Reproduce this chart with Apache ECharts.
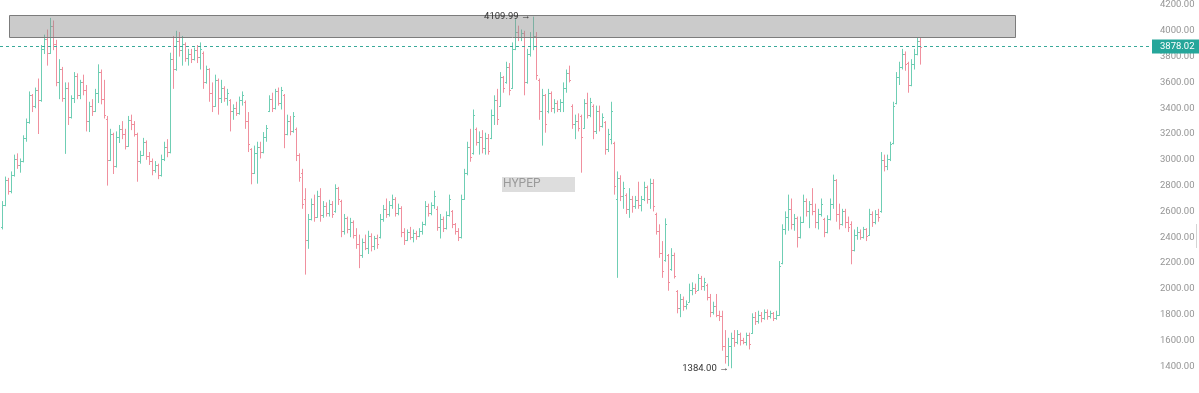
<!DOCTYPE html>
<html><head><meta charset="utf-8">
<script src="https://cdn.jsdelivr.net/npm/echarts@6/dist/echarts.min.js"></script>
<style>html,body{margin:0;padding:0;background:#fff}#c{width:1199px;height:393px}</style>
</head><body><div id="c"></div><script>
// ---- data (OHLC bars, oldest to newest) ----
const openP=[
2480,2650,2840,2760,2880,3010,2960,2990,3170,3290,
3500,3420,3540,3460,3860,3940,3830,4040,3900,3600,
3700,3480,3560,3330,3480,3650,3500,3600,3540,3300,
3420,3380,3520,3680,3470,3320,3000,3200,2950,3180,
3240,3200,3110,3310,3280,3200,2990,3040,3140,3030,
2990,2920,2960,2880,3010,3100,3060,3780,3700,3920,
3850,3900,3790,3820,3780,3850,3800,3830,3600,3700,
3520,3420,3620,3480,3560,3480,3460,3380,3400,3360,
3460,3450,3300,3080,2900,3050,3100,3060,3180,3380,
3470,3400,3530,3440,3500,3200,3300,3220,3240,3040,
2900,2700,2380,2540,2660,2560,2720,2570,2640,2590,
2660,2600,2780,2680,2450,2550,2460,2520,2420,2350,
2260,2360,2320,2410,2330,2390,2400,2540,2620,2580,
2650,2700,2590,2630,2440,2380,2440,2400,2430,2410,
2450,2500,2640,2590,2650,2620,2480,2540,2470,2570,
2600,2500,2450,2400,2700,2900,3100,3050,3240,3140,
3180,3090,3170,3170,3350,3460,3420,3640,3600,3720,
3560,3860,3990,3950,3980,3600,3820,3950,3960,3620,
3380,3500,3380,3520,3400,3440,3390,3450,3560,3670,
3420,3280,3300,3340,3250,3440,3350,3420,3220,3380,
3260,3290,3080,3160,3130,2700,2860,2720,2730,2620,
2700,2640,2690,2650,2700,2790,2700,2820,2580,2450,
2280,2220,2260,2150,2260,1980,1850,1920,1870,1900,
1990,2010,1990,2080,2020,2030,1940,1820,1870,1800,
1790,1560,1480,1560,1620,1590,1650,1600,1590,1640,
1660,1780,1750,1800,1770,1820,1790,1810,1770,1800,
2200,2460,2560,2620,2500,2550,2400,2520,2680,2600,
2660,2600,2520,2580,2540,2440,2540,2660,2840,2580,
2500,2600,2520,2500,2300,2420,2440,2400,2460,2420,
2580,2520,2580,2600,3000,2950,3010,3130,3440,3640,
3720,3820,3750,3580,3740,3820,3920];
const highP=[
2680,2870,2860,2910,3040,3050,3010,3190,3320,3530,
3510,3560,3630,3890,3970,4010,4100,4080,3930,3780,
3720,3600,3600,3500,3680,3670,3620,3660,3580,3450,
3470,3550,3740,3700,3620,3340,3240,3210,3220,3270,
3300,3240,3340,3350,3300,3210,3070,3170,3150,3060,
3010,2990,2970,3040,3140,3160,3830,3960,4000,3990,
3960,3910,3860,3860,3870,3890,3910,3840,3730,3710,
3600,3660,3630,3620,3570,3550,3470,3430,3450,3490,
3530,3460,3370,3090,3110,3140,3140,3215,3270,3500,
3520,3550,3560,3565,3510,3350,3340,3370,3250,3050,
2930,2780,2580,2700,2730,2760,2780,2680,2670,2690,
2680,2810,2790,2690,2580,2560,2550,2530,2470,2420,
2390,2420,2450,2430,2410,2420,2580,2650,2700,2680,
2730,2710,2660,2640,2470,2460,2480,2460,2450,2470,
2520,2680,2660,2670,2760,2640,2580,2560,2600,2730,
2610,2510,2470,2730,2930,3140,3240,3390,3250,3220,
3230,3210,3200,3390,3500,3550,3680,3650,3760,3750,
3910,4090,4040,4010,4000,3860,3990,4109.99,3990,3630,
3550,3510,3550,3530,3470,3460,3470,3600,3700,3730,
3430,3350,3360,3350,3470,3520,3480,3430,3420,3420,
3360,3300,3240,3450,3140,2910,2880,2830,2740,2780,
2720,2720,2830,2720,2830,2800,2854,2850,2590,2500,
2370,2546,2270,2315,2280,1990,1960,1940,1910,2040,
2050,2040,2115,2100,2085,2040,1960,1900,1960,1830,
1830,1680,1620,1660,1680,1680,1660,1620,1660,1660,
1810,1820,1830,1820,1840,1840,1830,1820,1830,2215,
2500,2600,2730,2700,2580,2560,2560,2730,2700,2680,
2780,2660,2620,2700,2550,2570,2700,2885,2850,2660,
2620,2620,2560,2523,2460,2480,2460,2480,2470,2620,
2600,2610,2620,3060,3040,3040,3140,3450,3680,3760,
3860,3840,3760,3780,3860,3950,3945];
const lowP=[
2460,2640,2730,2740,2870,2930,2900,2980,3140,3280,
3370,3400,3200,3450,3820,3730,3820,3850,3570,3470,
3450,3046,3270,3320,3440,3470,3470,3500,3220,3215,
3340,3370,3440,3430,3320,2800,2990,2890,2940,3130,
3160,3080,3100,3230,3180,2830,2970,3030,3000,2960,
2880,2900,2850,2870,2990,3020,3050,3550,3690,3800,
3730,3760,3730,3750,3770,3750,3700,3550,3590,3450,
3370,3410,3350,3440,3450,3420,3220,3310,3340,3350,
3420,3240,3060,2810,2890,2815,3010,3050,3140,3370,
3370,3390,3420,3390,3090,3190,3190,3210,2990,2830,
2620,2110,2310,2530,2520,2550,2520,2550,2560,2560,
2550,2590,2650,2400,2420,2430,2400,2390,2310,2160,
2240,2300,2270,2290,2300,2310,2390,2520,2550,2560,
2620,2560,2570,2400,2340,2370,2380,2360,2380,2400,
2420,2490,2560,2570,2620,2450,2390,2440,2460,2560,
2470,2420,2370,2390,2690,2880,2985,3040,3110,3040,
3050,3040,3040,3160,3270,3270,3410,3520,3590,3500,
3550,3850,3920,3920,3500,3590,3800,3850,3620,3310,
3110,3210,3360,3370,3360,3370,3370,3370,3520,3600,
3240,3160,3220,2900,3240,3320,3330,3160,3200,3220,
3250,3040,3060,3120,2730,2085,2680,2620,2580,2550,
2590,2620,2620,2600,2680,2660,2620,2600,2420,2240,
2085,2210,1985,2140,2080,1810,1780,1830,1840,1895,
1950,1960,1985,1990,1985,1910,1780,1800,1780,1750,
1520,1420,1400,1384,1550,1570,1560,1570,1560,1530,
1650,1720,1730,1740,1760,1760,1770,1750,1760,1790,
2190,2420,2450,2460,2450,2320,2390,2510,2560,2470,
2570,2470,2460,2560,2400,2430,2530,2620,2520,2460,
2490,2470,2440,2190,2290,2380,2380,2390,2370,2410,
2480,2500,2520,2590,2910,2920,2990,3120,3430,3580,
3700,3690,3520,3570,3700,3810,3738];
const closeP=[
2650,2840,2760,2880,3010,2960,2990,3170,3290,3500,
3420,3540,3460,3860,3940,3830,4040,3900,3600,3700,
3480,3560,3330,3480,3650,3500,3600,3540,3300,3420,
3380,3520,3680,3470,3350,3000,3200,2950,3180,3240,
3200,3110,3310,3280,3200,2990,3040,3140,3030,2990,
2920,2960,2880,3010,3100,3060,3780,3700,3920,3850,
3900,3790,3820,3780,3850,3800,3860,3600,3700,3520,
3420,3620,3480,3560,3480,3520,3380,3400,3360,3460,
3500,3300,3120,2900,3050,3100,3060,3180,3250,3470,
3400,3530,3440,3540,3200,3300,3220,3340,3040,2870,
2660,2380,2540,2660,2560,2720,2570,2640,2590,2660,
2580,2780,2700,2450,2550,2460,2520,2420,2350,2260,
2360,2320,2410,2330,2390,2350,2540,2620,2580,2650,
2700,2590,2630,2440,2380,2440,2400,2430,2410,2450,
2500,2640,2590,2650,2720,2480,2540,2470,2570,2700,
2500,2450,2400,2700,2900,3100,3020,3350,3140,3180,
3090,3170,3070,3350,3460,3320,3640,3560,3720,3540,
3860,3990,3950,3980,3600,3820,3950,3960,3660,3380,
3500,3280,3520,3400,3440,3390,3450,3560,3670,3620,
3280,3300,3250,3180,3440,3350,3450,3220,3380,3260,
3330,3080,3200,3380,2800,2860,2720,2780,2620,2700,
2640,2690,2650,2700,2790,2700,2820,2640,2450,2280,
2140,2500,2050,2260,2100,1850,1920,1870,1880,1990,
2010,1980,2080,2020,2050,1940,1820,1870,1800,1790,
1560,1480,1560,1620,1590,1650,1600,1590,1640,1570,
1780,1750,1800,1770,1820,1790,1810,1770,1800,2180,
2460,2560,2620,2500,2550,2400,2520,2680,2600,2660,
2600,2520,2580,2660,2440,2540,2660,2840,2580,2500,
2600,2520,2480,2300,2420,2440,2400,2460,2410,2580,
2520,2580,2560,3000,2950,3010,3120,3420,3640,3720,
3820,3740,3580,3740,3820,3920,3878.02];
const lastPrice = 3878.02;
const yMin = 1200, yMax = 4200, yStep = 200;
const zoneBars = [3, 337];          // bar index range of the drawn box
const zonePrices = [3952, 4120];    // price range of the drawn box
const symbolLabel = 'HYPEP';

// ---- build ----
const UP = '#6fceb4', DOWN = '#f0909e';
const bars = openP.map((o, i) => [i, o, highP[i], lowP[i], closeP[i]]);
let hiIdx = 0, loIdx = 0;
highP.forEach((v, i) => { if (v > highP[hiIdx]) hiIdx = i; });
lowP.forEach((v, i) => { if (v < lowP[loIdx]) loIdx = i; });

function ohlc(params, api) {
  const i = api.value(0), o = api.value(1), h = api.value(2), l = api.value(3), c = api.value(4);
  const ph = api.coord([i, h]), pl = api.coord([i, l]), po = api.coord([i, o]), pc = api.coord([i, c]);
  const x = Math.round(ph[0]) + 0.5;
  const st = { stroke: c >= o ? UP : DOWN, lineWidth: 1 };
  const yo = Math.round(po[1]) + 0.5, yc = Math.round(pc[1]) + 0.5;
  return { type: 'group', children: [
    { type: 'line', shape: { x1: x, y1: ph[1], x2: x, y2: pl[1] }, style: st },
    { type: 'line', shape: { x1: x - 1.5, y1: yo, x2: x, y2: yo }, style: st },
    { type: 'line', shape: { x1: x, y1: yc, x2: x + 1.5, y2: yc }, style: st }
  ]};
}
function zoneRect(params, api) {
  const a = api.coord([api.value(0) - 0.5, api.value(3)]);
  const b = api.coord([api.value(1) + 0.5, api.value(2)]);
  return { type: 'rect',
    shape: { x: Math.round(a[0]) + 0.5, y: Math.round(a[1]) + 0.5, width: Math.round(b[0] - a[0]), height: Math.round(b[1] - a[1]) },
    style: { fill: 'rgba(140,140,140,0.45)', stroke: '#7c7c7c', lineWidth: 1 } };
}

const chart = echarts.init(document.getElementById('c'), null, { renderer: 'canvas' });
chart.setOption({
  animation: false,
  backgroundColor: '#ffffff',
  textStyle: { fontFamily: 'Roboto' },
  grid: { left: 0, right: 49, top: 2, bottom: 1 },
  xAxis: { type: 'value', min: -0.5, max: 382.5, show: false },
  yAxis: {
    type: 'value', position: 'right', min: yMin, max: yMax, interval: yStep,
    splitLine: { show: false }, axisLine: { show: false }, axisTick: { show: false },
    axisLabel: { color: '#959595', fontSize: 9.5, margin: 10, fontFamily: 'Roboto',
      showMinLabel: false, formatter: v => v.toFixed(2) }
  },
  series: [
    {
      type: 'custom', renderItem: ohlc, data: bars, encode: { x: 0, y: [1, 2, 3, 4] }, z: 2, silent: true,
      markLine: {
        silent: true, symbol: ['none', 'none'],
        lineStyle: { color: '#3aa99a', width: 1, type: [3, 3] },
        label: { show: true, position: 'end', distance: 2, formatter: () => lastPrice.toFixed(2),
          backgroundColor: '#26a69a', color: '#ffffff', fontSize: 9.5, fontFamily: 'Roboto',
          padding: [2, 7, 2, 8] },
        data: [{ yAxis: lastPrice }]
      },
      markPoint: {
        silent: true, symbol: 'circle', symbolSize: 1, itemStyle: { color: 'rgba(0,0,0,0)' },
        label: { show: true, position: 'left', distance: 2, color: '#333333', fontSize: 9.5, fontFamily: 'Roboto' },
        data: [
          { coord: [hiIdx, highP[hiIdx]], label: { formatter: highP[hiIdx].toFixed(2) + ' →' } },
          { coord: [loIdx, lowP[loIdx]], label: { formatter: lowP[loIdx].toFixed(2) + ' →' } }
        ]
      }
    },
    {
      type: 'custom', renderItem: zoneRect, silent: true, z: 5,
      data: [[zoneBars[0], zoneBars[1], zonePrices[0], zonePrices[1]]],
      encode: { x: [0, 1], y: [2, 3] }
    }
  ],
  graphic: [
    { type: 'rect', left: 502, top: 177, shape: { width: 73, height: 15 }, style: { fill: '#dddddd' }, z: 10 },
    { type: 'text', left: 503, top: 178, style: { text: symbolLabel, fontSize: 12, fontFamily: 'Roboto', fill: '#9a9a9a' }, z: 11 },
    { type: 'rect', left: 1196, top: 224, shape: { width: 1, height: 24 }, style: { fill: '#d4d4d4' } }
  ]
});
</script></body></html>
